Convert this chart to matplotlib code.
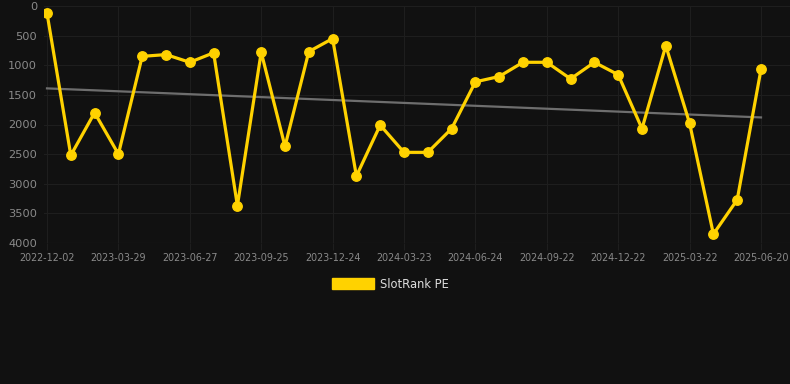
import matplotlib
matplotlib.use("Agg")
import matplotlib.pyplot as plt
from matplotlib.patches import Patch
import numpy as np

dates = ["2022-12-02", "", "", "2023-03-29", "", "", "2023-06-27", "", "", "2023-09-25", "", "",
         "2023-12-24", "", "", "2024-03-23", "", "", "2024-06-24", "", "", "2024-09-22", "", "",
         "2024-12-22", "", "", "2025-03-22", "", "", "2025-06-20"]
ranks = [120, 2520, 1800, 2500, 850, 820, 950, 790, 3370, 780, 2370, 770, 550, 2870, 2010,
         2470, 2470, 2070, 1280, 1190, 950, 950, 1230, 950, 1160, 2070, 670, 1980, 3850, 3270, 1070]
series_name = "SlotRank PE"
yticks = [0, 500, 1000, 1500, 2000, 2500, 3000, 3500, 4000]

BG = "#111111"
GRID = "#1e1e1e"
TXT = "#8a8a8a"
GOLD = "#FFD200"

fig = plt.figure(figsize=(7.9, 3.84), dpi=100, facecolor=BG)
W, H = 790, 384
left, right, top, bottom = 44, 790, 6, 243
ax = fig.add_axes([left / W, 1 - bottom / H, (right - left) / W, (bottom - top) / H], facecolor=BG)

x = np.arange(len(ranks))
coef = np.polyfit(x, ranks, 1)
ax.plot([x[0], x[-1]], np.polyval(coef, [x[0], x[-1]]), color="#6e6e6e", lw=1.6, zorder=2)

ax.plot(x, ranks, color=GOLD, lw=2.3, marker="o", ms=6.8, zorder=3, label=series_name)

px = 714 / 30
ax.set_xlim(-(47 - left) / px, 30 + (right - 761) / px)
ax.set_ylim(4000, 0)

tick_idx = [i for i, d in enumerate(dates) if d]
ax.set_xticks(tick_idx)
ax.set_xticklabels([dates[i] for i in tick_idx], fontsize=6.9, color=TXT)
ax.set_yticks(yticks)
ax.set_yticklabels([str(v) for v in yticks], fontsize=8.2, color=TXT)

ax.grid(True, color=GRID, lw=0.8)
ax.tick_params(axis="x", length=5, color=GRID, pad=2)
ax.tick_params(axis="y", length=0, pad=5)
for s in ax.spines.values():
    s.set_visible(False)
ax.axhline(4000, color="#262626", lw=0.8)

handle = Patch(facecolor=GOLD, edgecolor=GOLD)
fig.legend([handle], [series_name], loc="center", bbox_to_anchor=(390.5 / W, 1 - 284 / H),
           frameon=False, fontsize=8.3, handlelength=3.6, handleheight=1.0,
           handletextpad=0.5, labelcolor="#dddddd")

fig.savefig("out.png", dpi=100, facecolor=BG)
